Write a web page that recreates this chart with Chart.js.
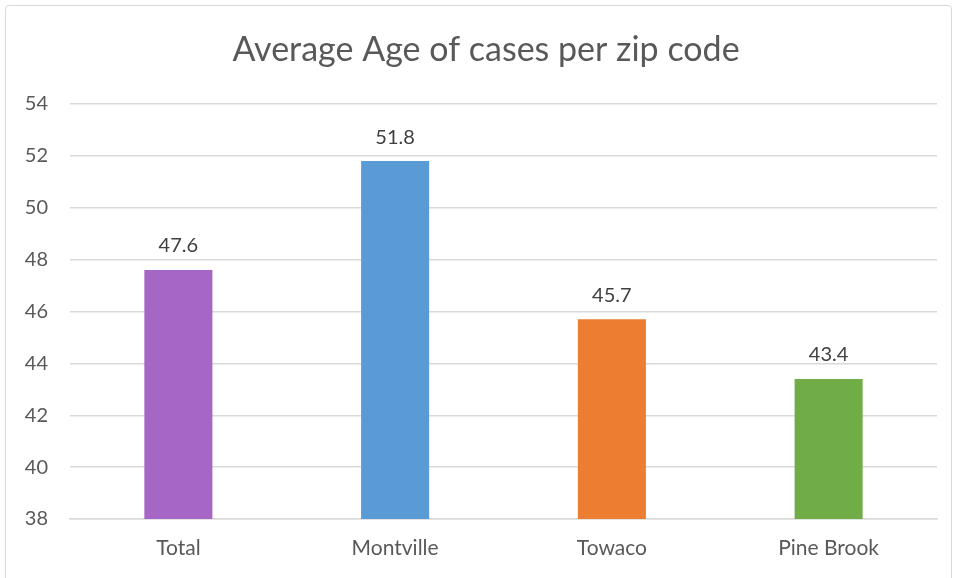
<!DOCTYPE html>
<html>
<head>
<meta charset="utf-8">
<script src="https://cdn.jsdelivr.net/npm/chart.js@4.4.0/dist/chart.umd.min.js"></script>
<style>
  body { margin: 0; background: #ffffff; }
  #wrap { position: relative; width: 956px; height: 578px; overflow: hidden; }
  #frame { position: absolute; left: 5px; top: 5px; width: 947px; height: 600px;
           border: 1px solid #d9d9d9; border-radius: 4px; box-sizing: border-box; }
  canvas { position: absolute; left: 0; top: 0; }
</style>
</head>
<body>
<div id="wrap">
  <div id="frame"></div>
  <canvas id="bar-chart" width="956" height="578"></canvas>
</div>
<script>
const chartTitle = 'Average Age of cases per zip code'
const zipNames = ['Total', 'Montville', 'Towaco', 'Pine Brook']
const averageAges = [47.6, 51.8, 45.7, 43.4]
const barColors = ['#a666c6', '#5b9bd5', '#ed7d31', '#70ad47']

const textColor = '#595959'
const fontFamily = 'Lato, "Open Sans", sans-serif'

// title is drawn by hand: Chart.js would centre it over the padded area, not the frame
const titleText = {
  id: 'titleText',
  afterDraw (chart) {
    const ctx = chart.ctx
    ctx.save()
    ctx.font = '34px ' + fontFamily
    ctx.fillStyle = textColor
    ctx.textAlign = 'center'
    ctx.textBaseline = 'middle'
    ctx.fillText(chartTitle, 486, 50)
    ctx.restore()
  }
}

// value labels above each bar
const valueLabels = {
  id: 'valueLabels',
  afterDatasetsDraw (chart) {
    const ctx = chart.ctx
    const meta = chart.getDatasetMeta(0)
    ctx.save()
    ctx.font = '20px ' + fontFamily
    ctx.fillStyle = '#404040'
    ctx.textAlign = 'center'
    ctx.textBaseline = 'middle'
    meta.data.forEach((bar, i) => {
      ctx.fillText(averageAges[i].toFixed(1), bar.x, bar.y - 24)
    })
    ctx.restore()
  }
}

const chart = new Chart(document.getElementById('bar-chart'), {
  type: 'bar',
  data: {
    labels: zipNames,
    datasets: [{
      label: 'Average age',
      data: averageAges,
      backgroundColor: barColors,
      categoryPercentage: 1.0,
      barPercentage: 0.314
    }]
  },
  options: {
    responsive: false,
    animation: false,
    layout: { padding: { left: 0, right: 19, top: 104, bottom: 0 } },
    plugins: {
      legend: { display: false },
      tooltip: { enabled: false },
      title: { display: false }
    },
    scales: {
      y: {
        min: 38,
        max: 54,
        ticks: { stepSize: 2, color: textColor, padding: 22, font: { family: fontFamily, size: 20 } },
        grid: { color: '#d9d9d9', lineWidth: 1.5, drawTicks: false },
        border: { display: false },
        afterFit (scale) { scale.width = 70 }
      },
      x: {
        ticks: { color: textColor, padding: 17, font: { family: fontFamily, size: 21 } },
        grid: { display: false, drawTicks: false },
        border: { color: '#d9d9d9', width: 1.5 },
        afterFit (scale) { scale.height = 59 }
      }
    }
  },
  plugins: [valueLabels, titleText]
})
</script>
</body>
</html>
